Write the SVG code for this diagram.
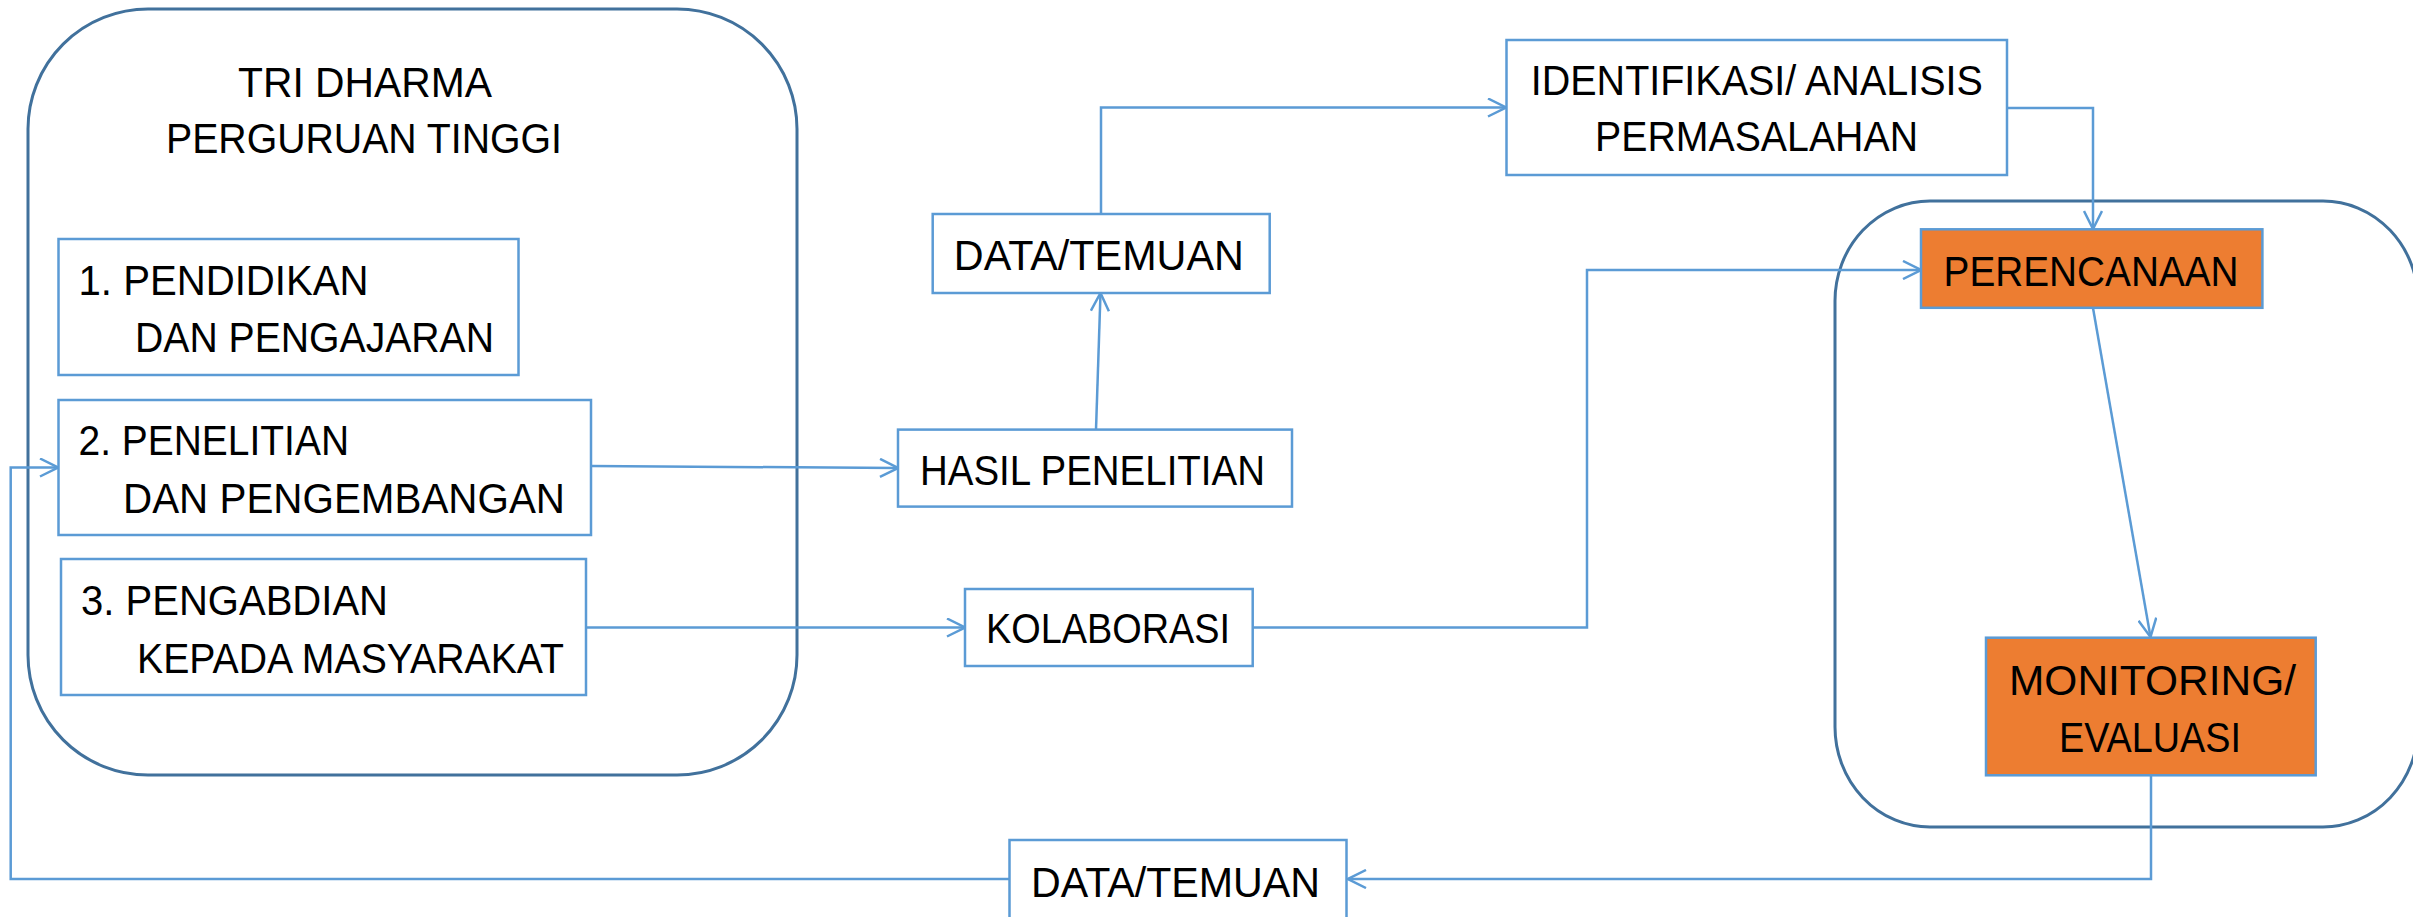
<svg xmlns="http://www.w3.org/2000/svg" width="2413" height="917" viewBox="0 0 2413 917">
<style>
.bg{fill:#ffffff}
.group{fill:none;stroke:#41719C;stroke-width:3}
.box{fill:#ffffff;stroke:#5B9BD5;stroke-width:2.5}
.obox{fill:#ED7D31;stroke:#5B9BD5;stroke-width:2.5}
.conn{fill:none;stroke:#5B9BD5;stroke-width:2.5}
text{font-family:"Liberation Sans",Arial,sans-serif;font-size:42px;fill:#000000}
</style>
<defs>
<marker id="arr" viewBox="0 0 20 20" refX="19" refY="10" markerWidth="20" markerHeight="20" markerUnits="userSpaceOnUse" orient="auto">
<path d="M1,1 L19,10 L1,19" fill="none" stroke="#5B9BD5" stroke-width="2.5"/>
</marker>
</defs>
<rect class="bg" x="0" y="0" width="2413" height="917"/>

<g id="tri-dharma-group">
<rect class="group" x="28" y="9" width="769" height="766" rx="120" ry="120"/>
<text x="238" y="97" textLength="254" lengthAdjust="spacingAndGlyphs">TRI DHARMA</text>
<text x="166" y="153" textLength="396" lengthAdjust="spacingAndGlyphs">PERGURUAN TINGGI</text>
</g>

<g id="cycle-group">
<rect class="group" x="1835" y="201" width="583" height="626" rx="95" ry="100"/>
</g>

<g id="connectors">
<path class="conn" d="M2151,775 V879 H1348" marker-end="url(#arr)"/>
<path class="conn" d="M1009.5,879 H10.7 V467.5 H58" marker-end="url(#arr)"/>
<path class="conn" d="M591,466 L898,468" marker-end="url(#arr)"/>
<path class="conn" d="M1096,429.6 L1100.5,293" marker-end="url(#arr)"/>
<path class="conn" d="M1101,214 V107.5 H1506" marker-end="url(#arr)"/>
<path class="conn" d="M2007,108 H2093 V229" marker-end="url(#arr)"/>
<path class="conn" d="M2093,308 L2150.5,637" marker-end="url(#arr)"/>
<path class="conn" d="M586,627.5 H965" marker-end="url(#arr)"/>
<path class="conn" d="M1253,627.5 H1587 V270 H1921" marker-end="url(#arr)"/>
</g>

<g id="pendidikan">
<rect class="box" x="58.5" y="239" width="460" height="136"/>
<text x="78.5" y="295" textLength="290" lengthAdjust="spacingAndGlyphs">1. PENDIDIKAN</text>
<text x="135" y="352" textLength="359" lengthAdjust="spacingAndGlyphs">DAN PENGAJARAN</text>
</g>

<g id="penelitian">
<rect class="box" x="58.5" y="400" width="532.5" height="135"/>
<text x="78.5" y="455" textLength="270.5" lengthAdjust="spacingAndGlyphs">2. PENELITIAN</text>
<text x="123" y="513" textLength="442" lengthAdjust="spacingAndGlyphs">DAN PENGEMBANGAN</text>
</g>

<g id="pengabdian">
<rect class="box" x="61" y="559" width="525" height="136"/>
<text x="81" y="615" textLength="307" lengthAdjust="spacingAndGlyphs">3. PENGABDIAN</text>
<text x="137" y="673" textLength="427" lengthAdjust="spacingAndGlyphs">KEPADA MASYARAKAT</text>
</g>

<g id="hasil-penelitian">
<rect class="box" x="898" y="429.6" width="394" height="77"/>
<text x="920" y="485" textLength="345" lengthAdjust="spacingAndGlyphs">HASIL PENELITIAN</text>
</g>

<g id="data-temuan-top">
<rect class="box" x="932.7" y="214" width="337" height="79"/>
<text x="953.8" y="270" textLength="290" lengthAdjust="spacingAndGlyphs">DATA/TEMUAN</text>
</g>

<g id="identifikasi">
<rect class="box" x="1506.5" y="40" width="500.5" height="135"/>
<text x="1530.8" y="95" textLength="452" lengthAdjust="spacingAndGlyphs">IDENTIFIKASI/ ANALISIS</text>
<text x="1595" y="151" textLength="323" lengthAdjust="spacingAndGlyphs">PERMASALAHAN</text>
</g>

<g id="kolaborasi">
<rect class="box" x="965" y="589" width="287.7" height="77"/>
<text x="986" y="643" textLength="244" lengthAdjust="spacingAndGlyphs">KOLABORASI</text>
</g>

<g id="perencanaan">
<rect class="obox" x="1921" y="229.3" width="341.4" height="78.5"/>
<text x="1943.6" y="285.6" textLength="295" lengthAdjust="spacingAndGlyphs">PERENCANAAN</text>
</g>

<g id="monitoring">
<rect class="obox" x="1986" y="637.7" width="329.7" height="137.6"/>
<text x="2009" y="695" textLength="287" lengthAdjust="spacingAndGlyphs">MONITORING/</text>
<text x="2059" y="752" textLength="182" lengthAdjust="spacingAndGlyphs">EVALUASI</text>
</g>

<g id="data-temuan-bottom">
<rect class="box" x="1009.5" y="840" width="337" height="79"/>
<text x="1031" y="897" textLength="289" lengthAdjust="spacingAndGlyphs">DATA/TEMUAN</text>
</g>
</svg>
